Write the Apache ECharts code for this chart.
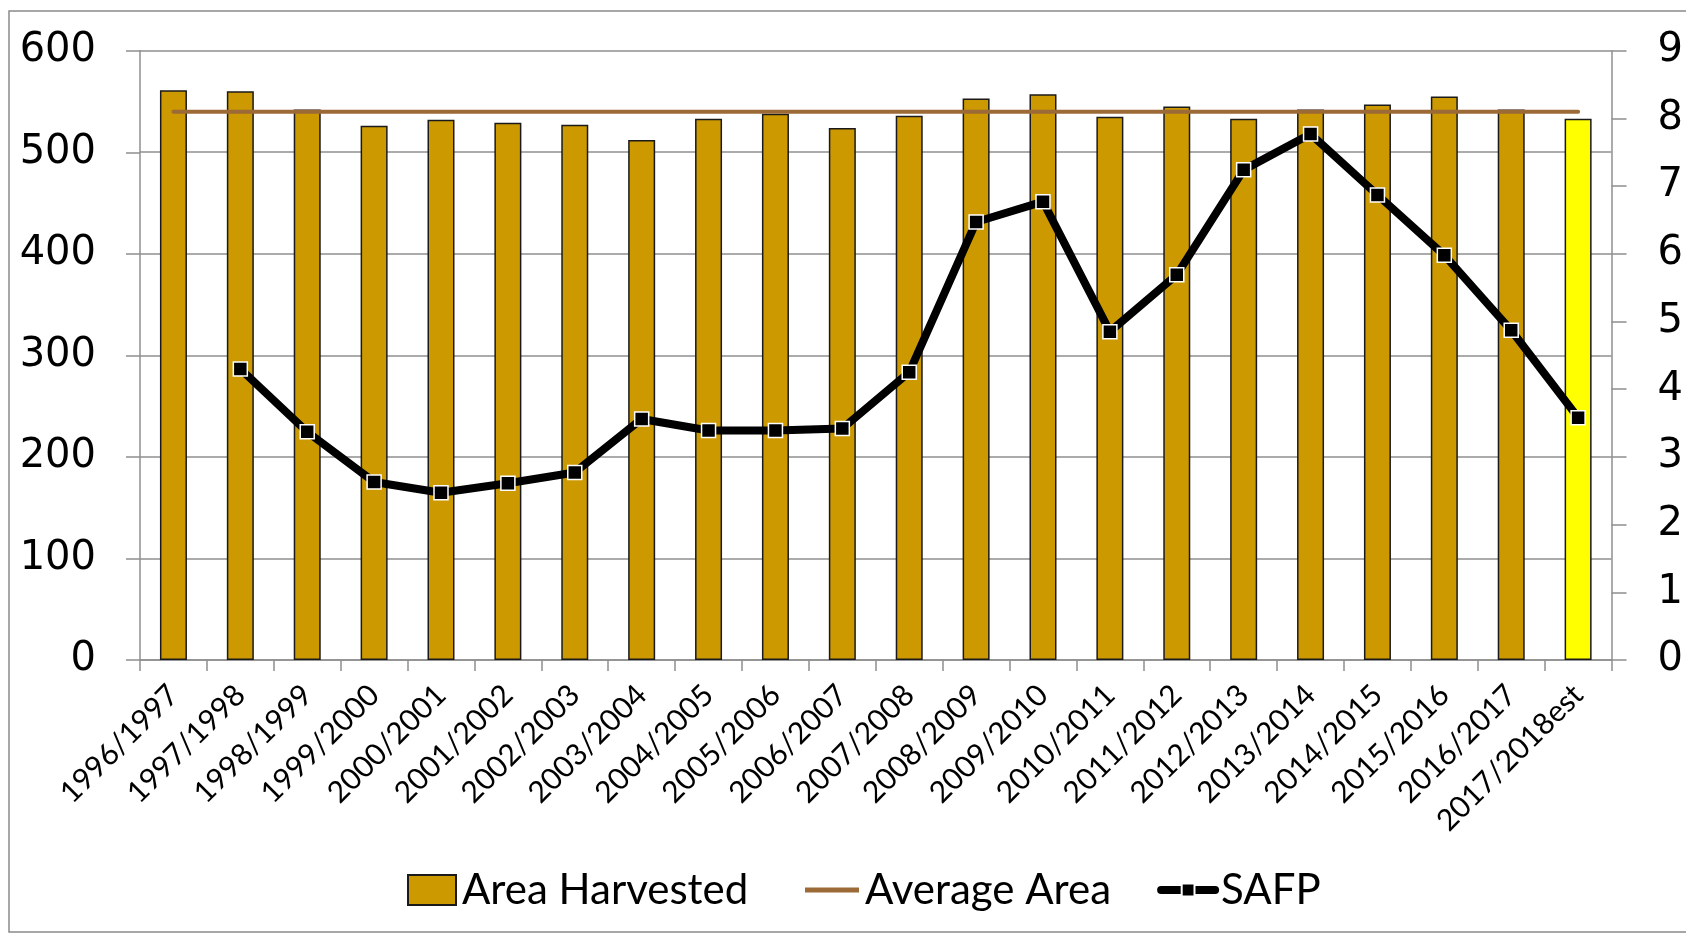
<!DOCTYPE html>
<html>
<head>
<meta charset="utf-8">
<script src="https://cdn.jsdelivr.net/npm/echarts@6/dist/echarts.min.js"></script>
<style>
  html, body { margin: 0; padding: 0; background: #fff; }
  #chart { width: 1686px; height: 935px; }
</style>
</head>
<body>
<div id="chart"></div>
<script>
// marketing years on the x axis
const categories = [
  '1996/1997', '1997/1998', '1998/1999', '1999/2000', '2000/2001', '2001/2002',
  '2002/2003', '2003/2004', '2004/2005', '2005/2006', '2006/2007', '2007/2008',
  '2008/2009', '2009/2010', '2010/2011', '2011/2012', '2012/2013', '2013/2014',
  '2014/2015', '2015/2016', '2016/2017', '2017/2018est'
]

// area harvested (left axis)
const areaHarvested = [
  561, 560, 542, 526, 532, 529, 527, 512, 533, 538, 524,
  536, 553, 557, 535, 545, 533, 542, 547, 555, 542, 533
]

// average area (flat reference line, left axis)
const averageArea = [
  540, 540, 540, 540, 540, 540, 540, 540, 540, 540, 540,
  540, 540, 540, 540, 540, 540, 540, 540, 540, 540, 540
]

// season average farm price (right axis)
const safp = [
  null, 4.30, 3.37, 2.63, 2.47, 2.61, 2.77, 3.56, 3.39, 3.39, 3.42,
  4.25, 6.47, 6.77, 4.85, 5.69, 7.24, 7.77, 6.87, 5.98, 4.87, 3.58
]

const leftTicks = { min: 0, max: 600, interval: 100 }
const rightTicks = { min: 0, max: 9, interval: 1 }

const gridColor = '#8f8f8f'
const avgColor = '#9c6a36'
const estIndex = categories.length - 1

const barData = areaHarvested.map((v, i) => (
  i === estIndex ? { value: v, itemStyle: { color: '#ffff00' } } : v
))

const legendText = { fontFamily: 'Lato', fontSize: 42, color: '#000', padding: [0, 0, 0, 1] }

const chart = echarts.init(document.getElementById('chart'), null, { renderer: 'canvas' })

chart.setOption({
  backgroundColor: '#fff',
  animation: false,
  graphic: [
    {
      type: 'rect',
      shape: { x: 9, y: 11, width: 1700, height: 921 },
      style: { fill: 'none', stroke: '#8a8a8a', lineWidth: 1.5 },
      silent: true
    }
  ],
  grid: { left: 140, right: 71, top: 50.7, bottom: 275 },
  legend: [
    {
      left: 402,
      top: 864,
      itemWidth: 48,
      itemHeight: 30,
      data: [{ name: 'Area Harvested', icon: 'rect' }],
      textStyle: legendText
    },
    {
      left: 800,
      top: 864,
      itemWidth: 54,
      itemHeight: 16,
      itemGap: 46,
      data: [
        { name: 'Average Area', icon: 'path://M0,0H54V5H0Z' },
        { name: 'SAFP', lineStyle: { width: 8, cap: 'round' } }
      ],
      textStyle: legendText
    }
  ],
  xAxis: {
    type: 'category',
    data: categories,
    boundaryGap: true,
    axisLine: { lineStyle: { color: gridColor, width: 1.5 } },
    axisTick: { show: true, length: 11, lineStyle: { color: gridColor, width: 1.5 } },
    axisLabel: {
      interval: 0,
      rotate: 45,
      margin: 30,
      fontFamily: 'Lato',
      fontSize: 30,
      color: '#000'
    }
  },
  yAxis: [
    {
      type: 'value',
      min: leftTicks.min,
      max: leftTicks.max,
      interval: leftTicks.interval,
      axisLine: { show: true, lineStyle: { color: gridColor, width: 1.5 } },
      axisTick: { show: true, length: 14, lineStyle: { color: gridColor, width: 1.5 } },
      splitLine: { lineStyle: { color: gridColor, width: 1.5 } },
      axisLabel: { margin: 44, fontFamily: 'DejaVu Sans', fontSize: 40, color: '#000' }
    },
    {
      type: 'value',
      position: 'right',
      min: rightTicks.min,
      max: rightTicks.max,
      interval: rightTicks.interval,
      axisLine: { show: true, lineStyle: { color: gridColor, width: 1.5 } },
      axisTick: { show: true, length: 15, lineStyle: { color: gridColor, width: 1.5 } },
      splitLine: { show: false },
      axisLabel: { margin: 46, fontFamily: 'DejaVu Sans', fontSize: 40, color: '#000' }
    }
  ],
  series: [
    {
      name: 'Area Harvested',
      type: 'bar',
      yAxisIndex: 0,
      barWidth: 27,
      data: barData,
      itemStyle: { color: '#cc9900', borderColor: '#1a1a1a', borderWidth: 1.5 }
    },
    {
      name: 'Average Area',
      type: 'line',
      yAxisIndex: 0,
      data: averageArea,
      symbol: 'none',
      itemStyle: { color: avgColor },
      lineStyle: { color: avgColor, width: 4, cap: 'round' },
      z: 3
    },
    {
      name: 'SAFP',
      type: 'line',
      yAxisIndex: 1,
      data: safp,
      symbol: 'rect',
      symbolSize: 14,
      itemStyle: { color: '#000', borderColor: '#fff', borderWidth: 1.5 },
      lineStyle: { color: '#000', width: 8 },
      z: 4
    }
  ]
})
</script>
</body>
</html>
